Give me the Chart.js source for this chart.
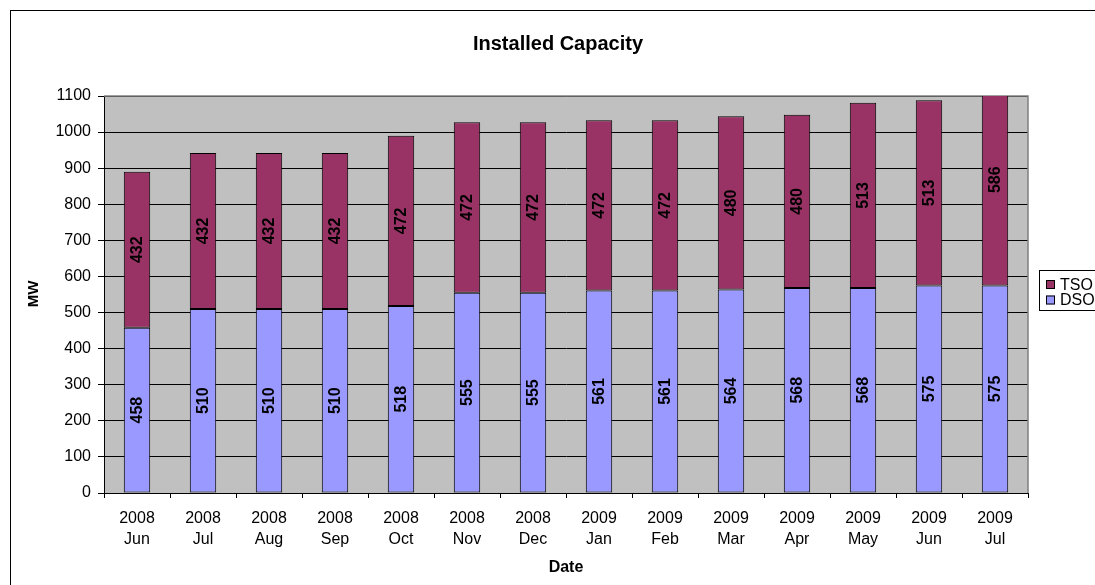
<!DOCTYPE html>
<html>
<head>
<meta charset="utf-8">
<script src="https://cdn.jsdelivr.net/npm/chart.js@4/dist/chart.umd.min.js"></script>
<style>
html,body{margin:0;padding:0;background:#fff;}
#wrap{position:relative;width:1095px;height:585px;}
</style>
</head>
<body>
<div id="wrap"><canvas id="c" width="1095" height="585"></canvas></div>
<script>
const categories = [
  ["2008","Jun"],["2008","Jul"],["2008","Aug"],["2008","Sep"],["2008","Oct"],["2008","Nov"],["2008","Dec"],
  ["2009","Jan"],["2009","Feb"],["2009","Mar"],["2009","Apr"],["2009","May"],["2009","Jun"],["2009","Jul"]
];
const dsoValues = [458,510,510,510,518,555,555,561,561,564,568,568,575,575];
const tsoValues = [432,432,432,432,472,472,472,472,472,480,480,513,513,586];
const yTicks = [0,100,200,300,400,500,600,700,800,900,1000,1100];
const chartTitle = "Installed Capacity";
const yTitle = "MW";
const xTitle = "Date";

const FONT = "'Liberation Sans', Arial, sans-serif";
const DSO_COLOR = "#9999FF";
const TSO_COLOR = "#993366";

const decorPlugin = {
  id: 'decor',
  beforeDraw(chart) {
    const ctx = chart.ctx, a = chart.chartArea;
    ctx.save();
    ctx.fillStyle = '#fff';
    ctx.fillRect(0, 0, chart.width, chart.height);
    ctx.fillStyle = '#C0C0C0';
    ctx.fillRect(a.left, a.top, a.right - a.left, a.bottom - a.top);
    ctx.restore();
  },
  beforeDatasetsDraw(chart) {
    const ctx = chart.ctx, a = chart.chartArea;
    ctx.save();
    ctx.strokeStyle = '#808080';
    ctx.lineWidth = 1.5;
    ctx.beginPath();
    ctx.moveTo(a.left, a.top);
    ctx.lineTo(a.right, a.top);
    ctx.lineTo(a.right, a.bottom);
    ctx.stroke();
    ctx.restore();
  },
  afterDatasetsDraw(chart) {
    const ctx = chart.ctx;
    ctx.save();
    ctx.fillStyle = '#000';
    ctx.font = "bold 16px " + FONT;
    ctx.textAlign = 'center';
    ctx.textBaseline = 'middle';
    chart.data.datasets.forEach((ds, di) => {
      const meta = chart.getDatasetMeta(di);
      meta.data.forEach((el, i) => {
        const p = el.getCenterPoint();
        ctx.save();
        ctx.translate(p.x, p.y);
        ctx.rotate(-Math.PI / 2);
        ctx.fillText(String(ds.data[i]), 0, 1);
        ctx.restore();
      });
    });
    ctx.restore();
  },
  afterDraw(chart) {
    const ctx = chart.ctx;
    ctx.save();
    // outer chart border
    ctx.strokeStyle = '#000';
    ctx.lineWidth = 1;
    ctx.strokeRect(10.5, 10.5, 2000, 2000);
    // title
    ctx.fillStyle = '#000';
    ctx.textAlign = 'center';
    ctx.textBaseline = 'alphabetic';
    ctx.font = "bold 20px " + FONT;
    ctx.fillText(chartTitle, 558, 50);
    // x title
    ctx.font = "bold 16px " + FONT;
    ctx.textBaseline = 'middle';
    ctx.fillText(xTitle, 566, 568);
    // y title
    ctx.save();
    ctx.translate(34, 294);
    ctx.rotate(-Math.PI / 2);
    ctx.font = "bold 15px " + FONT;
    ctx.fillText(yTitle, 0, 0);
    ctx.restore();
    // legend
    ctx.fillStyle = '#fff';
    ctx.fillRect(1039.5, 270.5, 100, 40);
    ctx.strokeStyle = '#000';
    ctx.strokeRect(1039.5, 270.5, 100, 40);
    const items = [
      {label: chart.data.datasets[1].label, color: chart.data.datasets[1].backgroundColor, y: 284.5},
      {label: chart.data.datasets[0].label, color: chart.data.datasets[0].backgroundColor, y: 300}
    ];
    ctx.font = "16px " + FONT;
    ctx.textAlign = 'left';
    ctx.textBaseline = 'middle';
    items.forEach(it => {
      ctx.fillStyle = it.color;
      ctx.fillRect(1046, it.y - 4.5, 9, 9);
      ctx.strokeStyle = '#000';
      ctx.lineWidth = 1;
      ctx.strokeRect(1046.5, it.y - 4, 8, 8);
      ctx.fillStyle = '#000';
      ctx.fillText(it.label, 1060, it.y + 1);
    });
    ctx.restore();
  }
};

new Chart(document.getElementById('c'), {
  type: 'bar',
  data: {
    labels: categories,
    datasets: [
      {label: 'DSO', data: dsoValues, backgroundColor: DSO_COLOR, borderColor: '#000', borderWidth: 1, borderSkipped: false, barPercentage: 0.4, categoryPercentage: 1.0},
      {label: 'TSO', data: tsoValues, backgroundColor: TSO_COLOR, borderColor: '#000', borderWidth: 1, borderSkipped: false, barPercentage: 0.4, categoryPercentage: 1.0}
    ]
  },
  options: {
    responsive: false,
    animation: false,
    devicePixelRatio: 1,
    layout: {padding: {left: 0, top: 96, right: 67, bottom: 0}},
    plugins: {legend: {display: false}, title: {display: false}, tooltip: {enabled: false}},
    scales: {
      x: {
        stacked: true,
        offset: true,
        afterFit(s) { s.height = 92; },
        grid: {offset: true, drawOnChartArea: false, drawTicks: true, tickLength: 5, color: '#000', lineWidth: 1},
        border: {display: true, color: '#000', width: 1},
        ticks: {color: '#000', font: {family: FONT, size: 16, lineHeight: 1.3}, padding: 10, maxRotation: 0, autoSkip: false}
      },
      y: {
        stacked: true,
        min: 0,
        max: 1100,
        afterFit(s) { s.width = 104; },
        afterBuildTicks(s) { s.ticks = yTicks.map(v => ({value: v})); },
        grid: {drawOnChartArea: true, drawTicks: true, tickLength: 6, color: '#000', lineWidth: 1},
        border: {display: true, color: '#000', width: 1},
        ticks: {color: '#000', font: {family: FONT, size: 16}, padding: 7, callback: (v) => String(v)}
      }
    }
  },
  plugins: [decorPlugin]
});
</script>
</body>
</html>
